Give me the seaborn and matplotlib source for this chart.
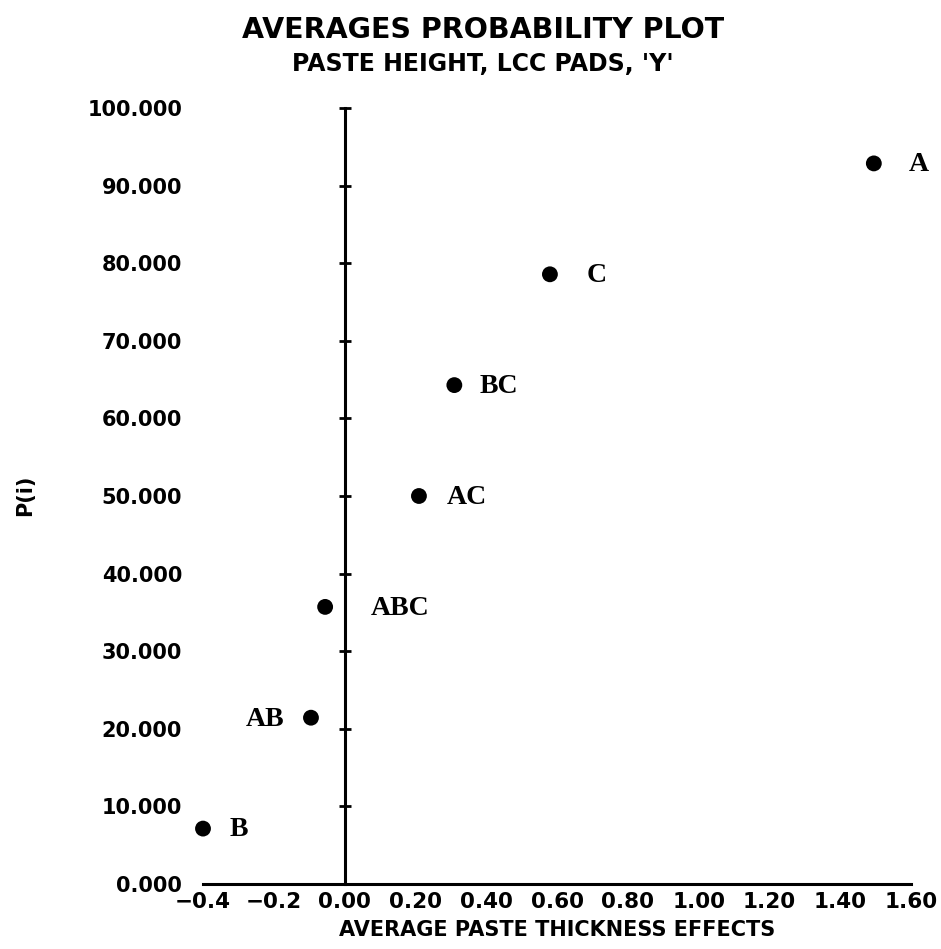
import matplotlib
matplotlib.use('Agg')
import matplotlib.pyplot as plt
import numpy as np
import pandas as pd
import seaborn as sns

sns.set_theme(style='white')
plt.rcParams['font.family'] = ['DejaVu Sans']
plt.rcParams['text.color'] = 'black'
plt.rcParams['axes.labelcolor'] = 'black'
plt.rcParams['xtick.color'] = 'black'
plt.rcParams['ytick.color'] = 'black'

# --- data ---
effects = ['A', 'C', 'BC', 'AC', 'ABC', 'AB', 'B']
avg_effect = [1.495, 0.58, 0.31, 0.21, -0.055, -0.095, -0.40]
p_i = [92.86, 78.57, 64.29, 50.0, 35.71, 21.43, 7.14]

x_ticks = [-0.4, -0.2, 0.0, 0.2, 0.4, 0.6, 0.8, 1.0, 1.2, 1.4, 1.6]
x_tick_labels = ['\u22120.4', '\u22120.2', '0.00', '0.20', '0.40', '0.60',
                 '0.80', '1.00', '1.20', '1.40', '1.60']
y_ticks = [0, 10, 20, 30, 40, 50, 60, 70, 80, 90, 100]
y_tick_labels = [f'{v:.3f}' for v in y_ticks]

# label offset in pixels (x) from each dot
label_dx = [35, 37, 25, 28, 46, -27, 27]

df = pd.DataFrame({'effect': effects, 'x': avg_effect, 'p': p_i})

fig = plt.figure(figsize=(9.41, 9.49), dpi=100)
ax = fig.add_axes([203 / 941, 1 - 884 / 949, 708 / 941, 776 / 949])

sns.scatterplot(data=df, x='x', y='p', ax=ax, s=130, color='black',
                edgecolor='none', marker='o', clip_on=False, zorder=5)

# labels next to points
for name, xv, yv, dx in zip(effects, avg_effect, p_i, label_dx):
    ax.annotate(name, (xv, yv), xytext=(dx * 0.72, -1), textcoords='offset points',
                ha='left' if dx > 0 else 'right', va='center',
                fontsize=20, fontweight='bold', family='Liberation Serif',
                color='black', annotation_clip=False)

ax.set_xlim(-0.4, 1.6)
ax.set_ylim(0, 100)

# x axis along the bottom
ax.set_xticks(x_ticks)
ax.set_xticklabels(x_tick_labels, fontsize=15.5, fontweight='bold')
ax.tick_params(axis='x', direction='inout', length=9, width=2, pad=1, color='black')
for s in ['top', 'right', 'left']:
    ax.spines[s].set_visible(False)
ax.spines['bottom'].set_linewidth(2.2)
ax.spines['bottom'].set_color('black')

# y labels at the left edge, no ticks there
ax.set_yticks(y_ticks)
ax.set_yticklabels(y_tick_labels, fontsize=15, fontweight='bold')
ax.tick_params(axis='y', length=0, pad=15)

# vertical axis drawn through x = 0
sec = ax.secondary_yaxis((0 - (-0.4)) / (1.6 - (-0.4)))
sec.set_yticks(y_ticks)
sec.set_yticklabels([])
sec.tick_params(axis='y', direction='inout', length=9, width=2, color='black')
sec.spines['left'].set_linewidth(2.2)
sec.spines['left'].set_color('black')

ax.set_xlabel('AVERAGE PASTE THICKNESS EFFECTS', fontsize=15, fontweight='bold', labelpad=6)
ax.set_ylabel('')
fig.text(25 / 941, 1 - 495 / 949, 'P(i)', rotation=90, fontsize=15, fontweight='bold',
         ha='center', va='center')

fig.text(483 / 941, 1 - 30 / 949, 'AVERAGES PROBABILITY PLOT', fontsize=20.5,
         fontweight='bold', ha='center', va='center')
fig.text(483 / 941, 1 - 64 / 949, "PASTE HEIGHT, LCC PADS, 'Y'", fontsize=17,
         fontweight='bold', ha='center', va='center')

fig.savefig('out.png', dpi=100)
